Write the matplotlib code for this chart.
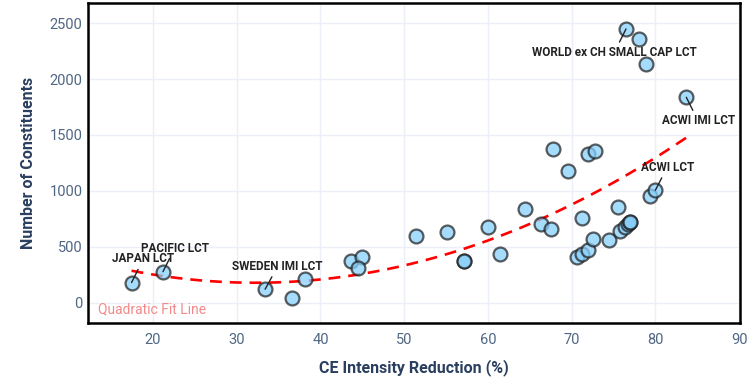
import matplotlib.pyplot as plt
import numpy as np

plt.rcParams['font.family'] = ['Roboto', 'DejaVu Sans']

# CE intensity reduction (%) vs number of constituents
reduction = [17.45, 21.2, 33.4, 36.6, 38.2, 43.6, 45.0, 44.5, 51.4, 55.1,
             57.1, 57.1, 60.0, 61.4, 64.4, 66.3, 67.5, 67.8, 69.6, 71.2,
             71.9, 72.8, 70.7, 71.3, 72.0, 72.6, 74.5, 75.6, 75.8, 76.4,
             76.7, 77.0, 77.0, 79.4, 80.0, 83.7, 76.5, 78.0, 78.9]
constituents = [180, 277, 120, 45, 215, 373, 406, 308, 597, 635,
                373, 373, 680, 433, 835, 704, 657, 1375, 1178, 755,
                1330, 1357, 406, 436, 468, 570, 561, 859, 642, 680,
                704, 722, 722, 954, 1005, 1837, 2448, 2359, 2132]

# labelled points: name, index into the arrays, text offset in points
labels = ['JAPAN LCT', 'PACIFIC LCT', 'SWEDEN IMI LCT',
          'WORLD ex CH SMALL CAP LCT', 'ACWI IMI LCT', 'ACWI LCT']
label_idx = [0, 1, 2, 36, 35, 34]
label_dx = [8.5, 8.5, 9, -8.5, 8.5, 8.5]
label_dy = [17, 17, 16.5, -17, -17, 16.5]

x_ticks = [20, 30, 40, 50, 60, 70, 80, 90]
y_ticks = [0, 500, 1000, 1500, 2000, 2500]

x = np.array(reduction)
y = np.array(constituents)

fig = plt.figure(figsize=(7.55, 3.79), dpi=100)
ax = fig.add_axes([0.1166, 0.1478, 0.8634, 0.8451])

# quadratic fit over the data range
coef = np.polyfit(x, y, 2)
xf = np.linspace(x.min(), x.max(), 200)
ax.plot(xf, np.polyval(coef, xf), color='#ff0000', lw=1.9,
        dashes=(4.5, 3), zorder=2)

ax.scatter(x, y, s=100, facecolor=(0.53, 0.81, 0.98, 0.75),
           edgecolor=(0.1, 0.1, 0.1, 0.7), linewidth=1.6, zorder=3)

for name, i, dx, dy in zip(labels, label_idx, label_dx, label_dy):
    ax.annotate(name, xy=(x[i], y[i]), xytext=(dx, dy),
                textcoords='offset points', ha='center', va='center',
                fontsize=8.5, fontweight='bold', color='#222222',
                arrowprops=dict(arrowstyle='-', color='#222222', lw=1,
                                shrinkA=1, shrinkB=0), zorder=4)

ax.text(0.016, 0.02, 'Quadratic Fit Line', transform=ax.transAxes,
        fontsize=10, color='#f28a8a', ha='left', va='bottom')

ax.set_xlim(12.25, 90.1)
ax.set_ylim(-182, 2683)
ax.set_xticks(x_ticks)
ax.set_yticks(y_ticks)
ax.tick_params(length=0, labelsize=10.5, labelcolor='#506784')
ax.tick_params(axis='x', pad=7)
ax.tick_params(axis='y', pad=4)
ax.grid(True, color='#ebeff7', lw=1)
ax.set_axisbelow(True)
for s in ax.spines.values():
    s.set_linewidth(1.8)
    s.set_color('black')

ax.set_xlabel('CE Intensity Reduction (%)', fontsize=11.5, fontweight='bold',
              color='#2a3f5f', labelpad=9)
ax.set_ylabel('Number of Constituents', fontsize=11.5, fontweight='bold',
              color='#2a3f5f', labelpad=10)

fig.savefig('out.png', dpi=100)
